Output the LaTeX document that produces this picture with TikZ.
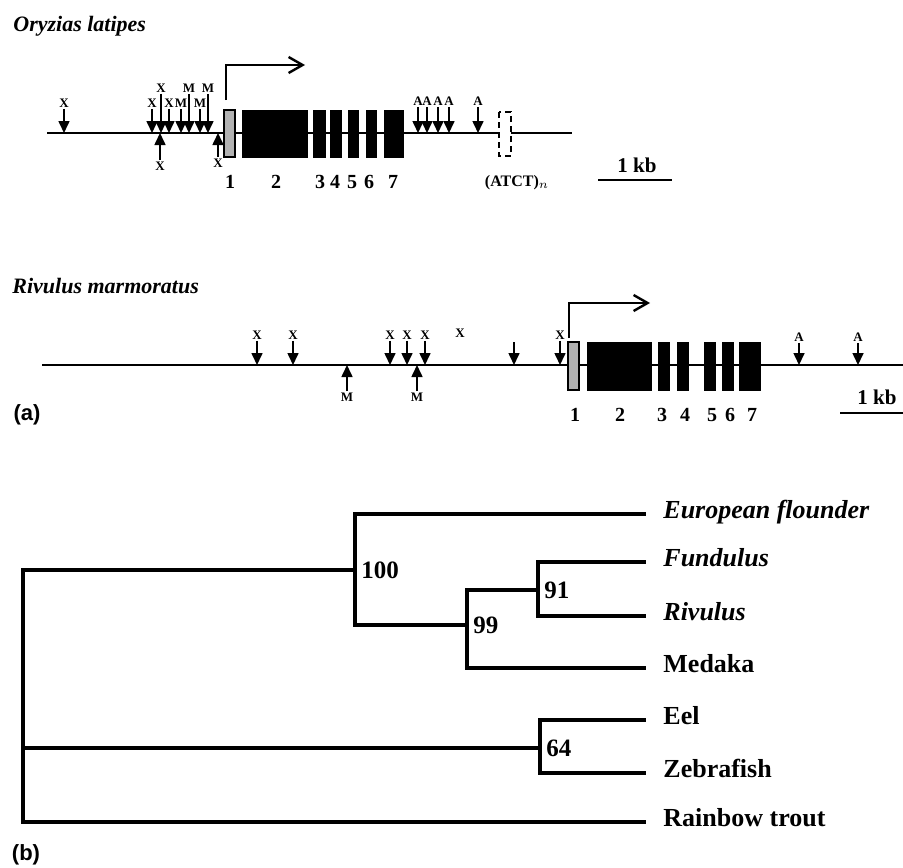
\documentclass[tikz,border=0pt]{standalone}
\usepackage{fontspec}
\setmainfont{Liberation Serif}
\setsansfont{Liberation Sans}
\usetikzlibrary{arrows.meta, positioning}

\begin{document}
\begin{tikzpicture}[
    x=0.5pt, y=-0.5pt,
    gene/.style = {line width=0.8pt},
    exon/.style = {fill=black, draw=black, line width=0.4pt},
    firstexon/.style = {fill=gray!60, draw=black, line width=0.6pt},
    repeatbox/.style = {fill=white, draw=black, densely dashed, line width=0.6pt},
    sitelbl/.style = {font=\fontsize{6.5}{7}\selectfont\bfseries, inner sep=0.6pt},
    site/.style = {-{Triangle[length=6pt, width=5.5pt]}, line width=0.8pt},
    tss/.style = {-{Straight Barb[length=7pt, width=8pt]}, line width=1.2pt},
    exnum/.style = {font=\fontsize{10}{10}\selectfont\bfseries, inner sep=0pt},
    species/.style = {font=\fontsize{11}{13}\selectfont\bfseries\itshape, anchor=base west, inner sep=0pt},
    panel/.style = {font=\fontsize{11}{13}\selectfont\sffamily\bfseries, inner sep=0pt},
    kb/.style = {font=\fontsize{10.5}{12}\selectfont\bfseries, inner sep=0pt},
    bar/.style = {line width=1pt},
    branch/.style = {line width=1.8pt},
    tobranch/.style = {branch, shorten >=8.5pt},
    taxon/.style = {font=\fontsize{13}{15}\selectfont\bfseries, anchor=mid west, inner sep=0pt},
    boot/.style = {font=\fontsize{12.5}{14}\selectfont\bfseries, anchor=west, inner sep=3pt}
]
\useasboundingbox (0,0) rectangle (903,867);

% ---------- (a) Oryzias latipes ----------
\node[species] (orytitle) at (13,31) {Oryzias latipes};
\coordinate (oline) at (0,133);
\draw[gene] (47,133) -- (572,133);

% exons 1-7 and the (ATCT)n repeat
\draw[firstexon] (224,110) rectangle (235,157);
\draw[exon] (242,110) rectangle (307,157);
\draw[exon] (313,110) rectangle (325,157);
\draw[exon] (330,110) rectangle (341,157);
\draw[exon] (348,110) rectangle (358,157);
\draw[exon] (366,110) rectangle (376,157);
\draw[exon] (384,110) rectangle (403,157);
\draw[repeatbox] (499,112) rectangle (511,156);

\node[exnum] (on1) at (230,182) {1};
\node[exnum] (on2) at (276,182) {2};
\node[exnum] (on3) at (320,182) {3};
\node[exnum] (on4) at (335,182) {4};
\node[exnum] (on5) at (352,182) {5};
\node[exnum] (on6) at (369,182) {6};
\node[exnum] (on7) at (393,182) {7};
\node[kb, font=\fontsize{8}{9}\selectfont\bfseries] (atct) at (517,183) {(ATCT)$_n$};

% transcription start
\coordinate (otss) at (226,100);
\coordinate (otssend) at (305,65);
\draw[tss] (otss) |- (otssend);

% restriction sites
\foreach \x/\y/\t [count=\i] in {64/103/X, 152/103/X, 161/88/X, 169/103/X, 181/103/M,
    189/88/M, 200/103/M, 208/88/M, 418/101/A, 427/101/A, 438/101/A, 449/101/A, 478/101/A} {
    \node[sitelbl] (od\i) at (\x,\y) {\t};
    \draw[site] (od\i.south) -- (od\i.south |- oline);
}
\foreach \x/\y/\t [count=\i] in {160/166/X, 218/163/X} {
    \node[sitelbl] (ou\i) at (\x,\y) {\t};
    \draw[site] (ou\i.north) -- (ou\i.north |- oline);
}

% scale
\node[kb] (okb) at (637,165) {1 kb};
\draw[bar] (598,180) -- (672,180);

% ---------- Rivulus marmoratus ----------
\node[species] (rivtitle) at (12,293) {Rivulus marmoratus};
\coordinate (rline) at (0,365);
\draw[gene] (42,365) -- (903,365);

\draw[firstexon] (568,342) rectangle (579,390);
\draw[exon] (587,342) rectangle (651,390);
\draw[exon] (658,342) rectangle (669,390);
\draw[exon] (677,342) rectangle (688,390);
\draw[exon] (704,342) rectangle (715,390);
\draw[exon] (722,342) rectangle (733,390);
\draw[exon] (739,342) rectangle (760,390);

\node[exnum] (rn1) at (575,415) {1};
\node[exnum] (rn2) at (620,415) {2};
\node[exnum] (rn3) at (662,415) {3};
\node[exnum] (rn4) at (685,415) {4};
\node[exnum] (rn5) at (712,415) {5};
\node[exnum] (rn6) at (730,415) {6};
\node[exnum] (rn7) at (752,415) {7};

% transcription start
\coordinate (rtss) at (569,338);
\coordinate (rtssend) at (650,303);
\draw[tss] (rtss) |- (rtssend);

% restriction sites
\foreach \x/\y/\t [count=\i] in {257/335/X, 293/335/X, 390/335/X, 407/335/X, 425/335/X,
    560/335/X, 799/337/A, 858/337/A} {
    \node[sitelbl] (rd\i) at (\x,\y) {\t};
    \draw[site] (rd\i.south) -- (rd\i.south |- rline);
}
\foreach \x/\y/\t [count=\i] in {347/397/M, 417/397/M} {
    \node[sitelbl] (ru\i) at (\x,\y) {\t};
    \draw[site] (ru\i.north) -- (ru\i.north |- rline);
}
\node[sitelbl] (rx) at (460,333) {X};
\coordinate (rs) at (514,342);
\draw[site] (rs) -- (rs |- rline);

% scale
\node[kb] (rkb) at (877,397) {1 kb};
\draw[bar] (840,413) -- (903,413);

\node[panel] (pa) at (27,415) {(a)};

% ---------- (b) tree ----------
\coordinate (root) at (23,748);
\coordinate (n100) at (355,570);
\coordinate (n99) at (467,625);
\coordinate (n91) at (538,590);
\coordinate (n64) at (540,748);

\node[taxon, font=\fontsize{13}{15}\selectfont\bfseries\itshape] (flou) at (663,514) {European flounder};
\node[taxon, font=\fontsize{13}{15}\selectfont\bfseries\itshape] (fund) at (663,562) {Fundulus};
\node[taxon, font=\fontsize{13}{15}\selectfont\bfseries\itshape] (rivu) at (663,616) {Rivulus};
\node[taxon] (meda) at (663,668) {Medaka};
\node[taxon] (eel) at (663,720) {Eel};
\node[taxon] (zebr) at (663,773) {Zebrafish};
\node[taxon] (trout) at (663,822) {Rainbow trout};

\draw[branch] (root) |- (n100);
\draw[branch] (root) -- (n64);
\draw[tobranch] (root) |- (trout.mid west);
\draw[tobranch] (n100) |- (flou.mid west);
\draw[branch] (n100) |- (n99);
\draw[branch] (n99) |- (n91);
\draw[tobranch] (n99) |- (meda.mid west);
\draw[tobranch] (n91) |- (fund.mid west);
\draw[tobranch] (n91) |- (rivu.mid west);
\draw[tobranch] (n64) |- (eel.mid west);
\draw[tobranch] (n64) |- (zebr.mid west);

% bootstrap values
\node[boot] (b100) at (n100) {100};
\node[boot] (b99) at (n99) {99};
\node[boot] (b91) at (n91) {91};
\node[boot] (b64) at (n64) {64};

\node[panel] (pb) at (26,855) {(b)};

\end{tikzpicture}
\end{document}
